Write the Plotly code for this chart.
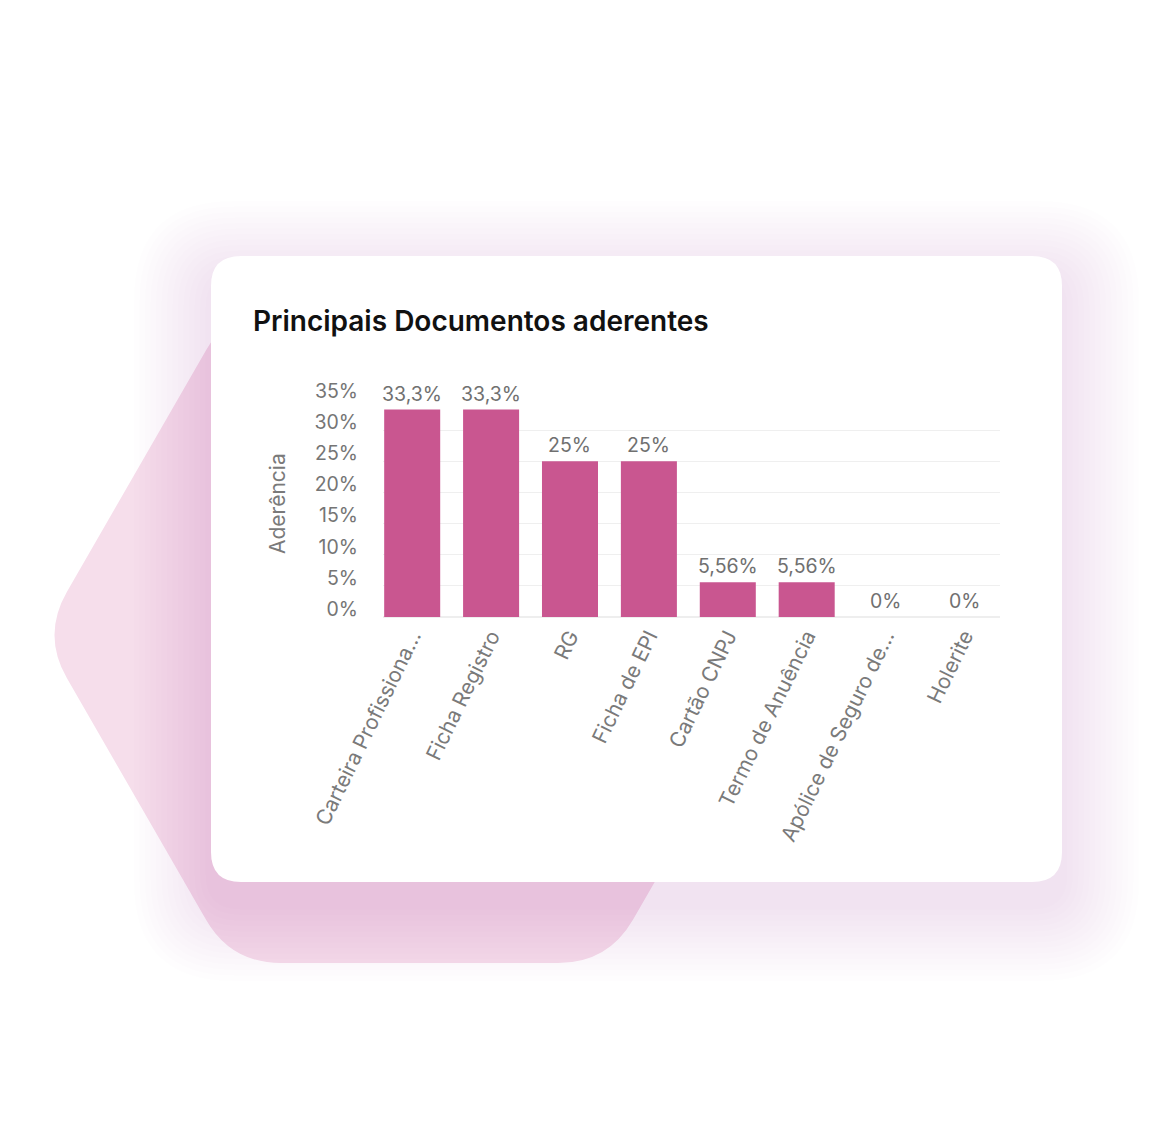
import math
import plotly.graph_objects as go

# ---------------- data ----------------
categories = ["Carteira Profissiona...", "Ficha Registro", "RG", "Ficha de EPI",
              "Cartão CNPJ", "Termo de Anuência", "Apólice de Seguro de...", "Holerite"]
aderencia = [33.3, 33.3, 25, 25, 5.56, 5.56, 0, 0]
y_ticks = [0, 5, 10, 15, 20, 25, 30, 35]
y_tick_labels = [f"{v}%" for v in y_ticks]
title_text = "Principais Documentos aderentes"
y_title = "Aderência"
bar_labels = [f"{v:g}".replace(".", ",") + "%" for v in aderencia]

# ---------------- helpers (pixel -> paper) ----------------
W, H = 1151, 1142


def px(x):
    return x / W


def py(y):
    return 1 - y / H


def rounded_path(pts, r):
    n = len(pts)
    parts = []
    for i in range(n):
        vx, vy = pts[i]
        pxx, pyy = pts[i - 1]
        nx, ny = pts[(i + 1) % n]
        d1 = math.hypot(pxx - vx, pyy - vy)
        d2 = math.hypot(nx - vx, ny - vy)
        ax, ay = vx + r * (pxx - vx) / d1, vy + r * (pyy - vy) / d1
        bx, by = vx + r * (nx - vx) / d2, vy + r * (ny - vy) / d2
        cmd = "M" if i == 0 else "L"
        parts.append(f"{cmd}{px(ax):.5f},{py(ay):.5f}")
        parts.append(f"Q{px(vx):.5f},{py(vy):.5f} {px(bx):.5f},{py(by):.5f}")
    parts.append("Z")
    return " ".join(parts)


def rect_pts(x0, y0, x1, y1):
    return [(x0, y0), (x1, y0), (x1, y1), (x0, y1)]


shapes = []
# pink hexagon in background
hexagon = [(42, 635), (231, 963), (608, 963), (797, 635), (608, 307), (231, 307)]
shapes.append(dict(type="path", xref="paper", yref="paper", layer="below",
                   path=rounded_path(hexagon, 50), fillcolor="#f6deeb",
                   line=dict(width=0)))
# soft shadow of card
card = (211, 256, 1062, 882)
dy = 22
for i in range(1, 15):
    e = i * 5.5
    shapes.append(dict(type="path", xref="paper", yref="paper", layer="below",
                       path=rounded_path(rect_pts(card[0] - e, card[1] - e + dy,
                                                  card[2] + e, card[3] + e + dy), 30 + e * 0.9),
                       fillcolor="rgba(105,55,115,0.006)", line=dict(width=0)))
# white card
shapes.append(dict(type="path", xref="paper", yref="paper", layer="below",
                   path=rounded_path(rect_pts(*card), 30), fillcolor="#ffffff",
                   line=dict(width=0)))

fig = go.Figure()
fig.add_trace(go.Bar(
    x=categories, y=aderencia,
    marker=dict(color="#c95690", line=dict(width=0)),
    hoverinfo="skip",
))

label_annotations = [
    dict(text=t, x=c, y=v, xref="x", yref="y", xanchor="center", yanchor="bottom",
         yshift=2, showarrow=False,
         font=dict(family="Inter", size=19.5, color="#707070"))
    for c, v, t in zip(categories, aderencia, bar_labels)
]

fig.update_layout(
    width=W, height=H, autosize=False,
    margin=dict(l=0, r=0, t=0, b=0, autoexpand=False),
    paper_bgcolor="#ffffff", plot_bgcolor="rgba(0,0,0,0)",
    showlegend=False, bargap=0.29,
    font=dict(family="Inter", color="#777777"),
    shapes=shapes,
    xaxis=dict(domain=[px(383), px(1000)], range=[-0.37, 7.45], automargin=False,
               tickangle=-64, tickfont=dict(family="Inter", size=21, color="#7a7a7a"),
               showgrid=False, showline=False, zeroline=False, ticks="",
               ticklabelstandoff=2, fixedrange=True),
    yaxis=dict(domain=[py(617), py(399)], range=[0, 35], automargin=False,
               tickvals=y_ticks, ticktext=y_tick_labels,
               tickfont=dict(family="Inter", size=19.5, color="#757575"),
               gridcolor="#efefef", gridwidth=1, zeroline=True, zerolinecolor="#eeeeee",
               showline=False, ticks="", ticklabelstandoff=24, ticklabelshift=-8,
               fixedrange=True),
    annotations=[
        dict(text=title_text, x=px(251), y=py(321), xref="paper", yref="paper",
             xanchor="left", yanchor="middle", showarrow=False,
             font=dict(family="Inter", size=28, color="#111111", weight=600)),
        dict(text=y_title, x=px(277), y=py(504), xref="paper", yref="paper",
             xanchor="center", yanchor="middle", showarrow=False, textangle=-90,
             font=dict(family="Inter", size=21, color="#7a7a7a")),
    ] + label_annotations,
)

fig.write_html("out.html", config={"displayModeBar": False},
               post_script="document.body.style.margin='0';document.body.style.overflow='hidden';")
